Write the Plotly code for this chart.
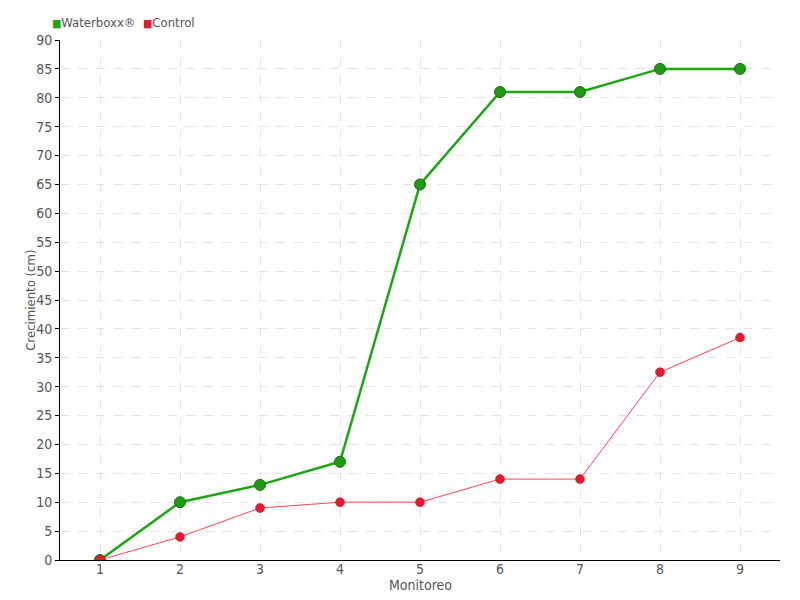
import plotly.graph_objects as go

monitoreo = [1, 2, 3, 4, 5, 6, 7, 8, 9]
waterboxx = [0, 10, 13, 17, 65, 81, 81, 85, 85]
control = [0, 4, 9, 10, 10, 14, 14, 32.5, 38.5]

font_family = "Liberation Sans Narrow, DejaVu Sans Condensed, sans-serif"
green = "#1ea514"
red = "#e8192c"

fig = go.Figure()
fig.add_trace(go.Scatter(
    x=monitoreo, y=waterboxx, mode="lines+markers", name="Waterboxx®",
    line=dict(color=green, width=2.5),
    marker=dict(symbol="circle", size=11, color="#1e9a14",
                line=dict(color="#1a6e12", width=1)),
))
fig.add_trace(go.Scatter(
    x=monitoreo, y=control, mode="lines+markers", name="Control",
    line=dict(color="#ff4555", width=1),
    marker=dict(symbol="circle", size=9, color=red,
                line=dict(color="#c01020", width=0.5)),
))

# legend drawn as a text line with coloured squares
legend_text = (
    f"<span style='color:{green};font-size:11px'>■</span>Waterboxx®  "
    f"<span style='color:{red};font-size:11px'>■</span>Control"
)
fig.add_annotation(text=legend_text, xref="paper", yref="paper",
                   x=-0.0139, y=1.0346, xanchor="left", yanchor="middle",
                   showarrow=False, font=dict(size=13, color="#555555"))

# axis titles as annotations for exact placement
fig.add_annotation(text="Monitoreo", xref="paper", yref="paper",
                   x=0.5, y=-0.049, xanchor="center", yanchor="middle",
                   showarrow=False, font=dict(size=14, color="#555555"))
fig.add_annotation(text="Crecimiento (cm)", xref="paper", yref="paper",
                   x=-0.042, y=0.5, xanchor="center", yanchor="middle",
                   textangle=-90, showarrow=False,
                   font=dict(size=13, color="#555555"))

grid = dict(showgrid=True, gridcolor="#e3e3e3", griddash="dash", gridwidth=1)

fig.update_layout(
    width=800, height=600,
    margin=dict(l=52, r=28, t=32, b=48, autoexpand=False),
    plot_bgcolor="white", paper_bgcolor="white",
    font=dict(family=font_family, size=15, color="#555555"),
    showlegend=False,
    xaxis=dict(range=[0.5, 9.5], tickvals=monitoreo, ticks="", ticklabelstandoff=-4,
               showline=True, linecolor="#000", linewidth=1,
               tickfont=dict(size=14),
               zeroline=False, **grid),
    yaxis=dict(range=[0, 90], dtick=5, ticks="outside", ticklen=4,
               tickcolor="#000", showline=True, linecolor="#000", linewidth=1,
               tickfont=dict(size=14),
               zeroline=False, **grid),
)

fig.write_html("out.html")
